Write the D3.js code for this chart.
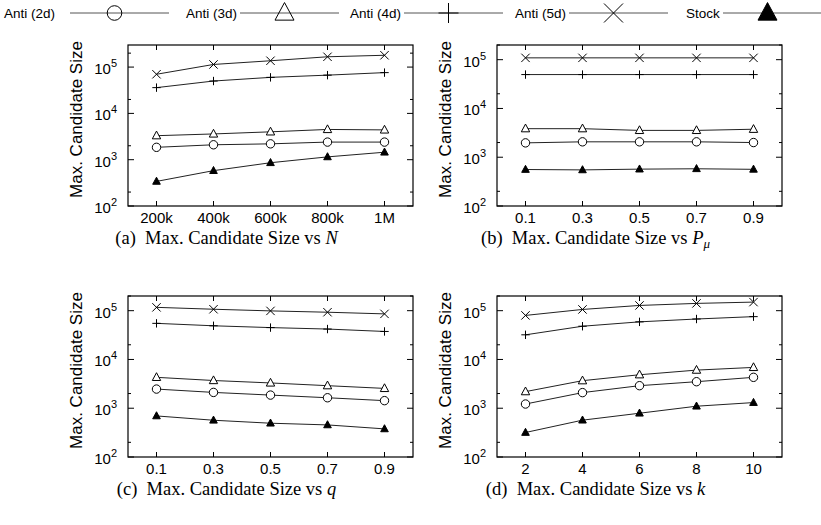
<!DOCTYPE html>
<meta charset="utf-8">
<style>
body { margin: 0; background: #fff; }
text { font-family: "Liberation Sans", Arial, sans-serif; fill: #000; }
.caption { font-family: "Liberation Serif", "Times New Roman", serif; font-size: 18.5px; }
.frame { fill: none; stroke: #000; stroke-width: 1.2px; }
.tick { stroke: #000; stroke-width: 1px; }
.series { fill: none; stroke: #222; stroke-width: 1px; }
.legline { stroke: #555; stroke-width: 1px; }
</style>
<body>
<script src="https://d3js.org/d3.v7.min.js"></script>
<script>
// series names, same order in every panel
var seriesNames = ["Anti (2d)", "Anti (3d)", "Anti (4d)", "Anti (5d)", "Stock"];

// x values and tick labels
var nValues = [200000, 400000, 600000, 800000, 1000000];
var nLabels = ["200k", "400k", "600k", "800k", "1M"];
var pValues = [0.1, 0.3, 0.5, 0.7, 0.9];
var pLabels = ["0.1", "0.3", "0.5", "0.7", "0.9"];
var qValues = [0.1, 0.3, 0.5, 0.7, 0.9];
var qLabels = ["0.1", "0.3", "0.5", "0.7", "0.9"];
var kValues = [2, 4, 6, 8, 10];
var kLabels = ["2", "4", "6", "8", "10"];

// (a) vs N
var a2d = [1850, 2100, 2200, 2400, 2400];
var a3d = [3300, 3600, 4000, 4500, 4400];
var a4d = [36000, 50000, 60000, 67000, 76000];
var a5d = [70000, 114000, 137000, 167000, 180000];
var aStock = [340, 580, 860, 1150, 1450];

// (b) vs P_mu
var b2d = [1970, 2070, 2070, 2070, 2000];
var b3d = [3850, 3850, 3550, 3550, 3750];
var b4d = [49500, 49500, 49500, 49500, 49500];
var b5d = [109000, 109000, 109000, 109000, 109000];
var bStock = [560, 550, 570, 580, 565];

// (c) vs q
var c2d = [2470, 2110, 1860, 1640, 1430];
var c3d = [4300, 3700, 3300, 2900, 2550];
var c4d = [55000, 49000, 45000, 42000, 37500];
var c5d = [117000, 107000, 99000, 93000, 86000];
var cStock = [695, 567, 493, 455, 377];

// (d) vs k
var d2d = [1220, 2090, 2900, 3500, 4300];
var d3d = [2190, 3670, 4860, 6050, 6870];
var d4d = [32000, 48000, 59000, 67500, 75500];
var d5d = [80000, 106000, 128000, 141000, 150000];
var dStock = [318, 569, 790, 1100, 1306];

var yTicks = [100, 1000, 10000, 100000];
var yExp = ["2", "3", "4", "5"];
var yMinor = [200, 2000, 20000, 200000];

var W = 821, H = 525;
var boxW = 285, boxH = 161;

var svg = d3.select("body").append("svg")
    .attr("width", W)
    .attr("height", H);

function sText(g, x, y, size, anchor, str, rot) {
  return g.append("text")
    .attr("transform", "translate(" + x + "," + y + ")" + (rot ? " rotate(" + rot + ")" : ""))
    .attr("text-anchor", anchor)
    .style("font-size", size + "px")
    .text(str);
}

function markerPath(type, s) {
  if (type == "circle") return d3.symbol().type(d3.symbolCircle).size(Math.PI * s * s)();
  if (type == "plus") return "M" + (-s) + ",0H" + s + "M0," + (-s) + "V" + s;
  if (type == "cross") return "M" + (-s) + "," + (-s) + "L" + s + "," + s + "M" + (-s) + "," + s + "L" + s + "," + (-s);
  // triangle
  return "M0," + (-s * 1.1) + "L" + s + "," + (s * 0.75) + "L" + (-s) + "," + (s * 0.75) + "Z";
}
var markerTypes = ["circle", "triangle", "plus", "cross", "triangle"];

var panels = [
  {xs: nValues, labels: nLabels, xDomain: [100000, 1100000], yTop: 3e5,
   series: [a2d, a3d, a4d, a5d, aStock], left: 128, top: 45, tag: "(a)", sym: "N", sub: null},
  {xs: pValues, labels: pLabels, xDomain: [0, 1], yTop: 2e5,
   series: [b2d, b3d, b4d, b5d, bStock], left: 497, top: 45, tag: "(b)", sym: "P", sub: "\u03bc"},
  {xs: qValues, labels: qLabels, xDomain: [0, 1], yTop: 2e5,
   series: [c2d, c3d, c4d, c5d, cStock], left: 128, top: 296, tag: "(c)", sym: "q", sub: null},
  {xs: kValues, labels: kLabels, xDomain: [1, 11], yTop: 2e5,
   series: [d2d, d3d, d4d, d5d, dStock], left: 497, top: 296, tag: "(d)", sym: "k", sub: null}
];

panels.forEach(function(p) {
  var g = svg.append("g").attr("transform", "translate(" + p.left + "," + p.top + ")");
  var x = d3.scaleLinear().domain(p.xDomain).range([0, boxW]);
  var y = d3.scaleLog().domain([100, p.yTop]).range([boxH, 0]);

  // ticks, inward on all four sides
  yTicks.forEach(function(t) {
    g.append("line").attr("class", "tick").attr("x1", 0).attr("x2", 6).attr("y1", y(t)).attr("y2", y(t));
    g.append("line").attr("class", "tick").attr("x1", boxW).attr("x2", boxW - 6).attr("y1", y(t)).attr("y2", y(t));
  });
  yMinor.forEach(function(t) {
    if (t > p.yTop) return;
    g.append("line").attr("class", "tick").attr("x1", 0).attr("x2", 3).attr("y1", y(t)).attr("y2", y(t));
    g.append("line").attr("class", "tick").attr("x1", boxW).attr("x2", boxW - 3).attr("y1", y(t)).attr("y2", y(t));
  });
  p.xs.forEach(function(v) {
    g.append("line").attr("class", "tick").attr("x1", x(v)).attr("x2", x(v)).attr("y1", boxH).attr("y2", boxH - 5);
    g.append("line").attr("class", "tick").attr("x1", x(v)).attr("x2", x(v)).attr("y1", 0).attr("y2", 5);
  });

  // y tick labels 10^n
  yTicks.forEach(function(t, i) {
    var tx = g.append("text")
      .attr("x", -11)
      .attr("y", y(t) + 7)
      .attr("text-anchor", "end")
      .style("font-size", "15px");
    tx.append("tspan").text("10");
    tx.append("tspan").attr("dy", -7).style("font-size", "11px").text(yExp[i]);
  });

  // x tick labels
  p.xs.forEach(function(v, i) {
    sText(g, x(v), boxH + 17, 15, "middle", p.labels[i]);
  });

  // y axis title
  sText(g, -46, boxH / 2 - 6, 17, "middle", "Max. Candidate Size", -90);

  // lines
  var line = d3.line()
    .x(function(d, i) { return x(p.xs[i]); })
    .y(function(d) { return y(d); });
  p.series.forEach(function(s) {
    g.append("path").datum(s).attr("class", "series").attr("d", line);
  });
  p.series.forEach(function(s, si) {
    g.selectAll(null)
      .data(s)
      .enter().append("path")
        .attr("transform", function(d, i) { return "translate(" + x(p.xs[i]) + "," + y(d) + ")"; })
        .attr("d", markerPath(markerTypes[si], si == 4 ? 3.8 : 4.2))
        .attr("fill", si == 4 ? "#000" : "#fff")
        .attr("stroke", "#000")
        .attr("stroke-width", 1);
  });

  // frame
  g.append("rect").attr("class", "frame").attr("width", boxW).attr("height", boxH);

  // caption
  var cap = g.append("text")
    .attr("class", "caption")
    .attr("x", boxW / 2 - 44)
    .attr("y", boxH + 38)
    .attr("text-anchor", "middle");
  cap.append("tspan").text(p.tag + "\u2002Max. Candidate Size vs ");
  cap.append("tspan").style("font-style", "italic").text(p.sym);
  if (p.sub) {
    cap.append("tspan").attr("dy", 4).style("font-style", "italic").style("font-size", "13px").text(p.sub);
  }
});

// legend along the top
var legText = [4, 186, 350, 515, 686];
var legLine = [70, 240, 404, 569, 723];
var legLen = 99, legY = 13;
var leg = svg.append("g");
seriesNames.forEach(function(name, i) {
  sText(leg, legText[i], legY + 5, 13.5, "start", name);
  leg.append("line").attr("class", "legline")
    .attr("x1", legLine[i]).attr("x2", legLine[i] + legLen)
    .attr("y1", legY).attr("y2", legY);
  leg.append("path")
    .attr("transform", "translate(" + (legLine[i] + legLen / 2 - 5) + "," + legY + ")")
    .attr("d", markerPath(markerTypes[i], i == 0 ? 7.3 : (i == 2 ? 10 : 9.5)))
    .attr("fill", i == 4 ? "#000" : "none")
    .attr("stroke", "#000")
    .attr("stroke-width", 1);
});
</script>
</body>
